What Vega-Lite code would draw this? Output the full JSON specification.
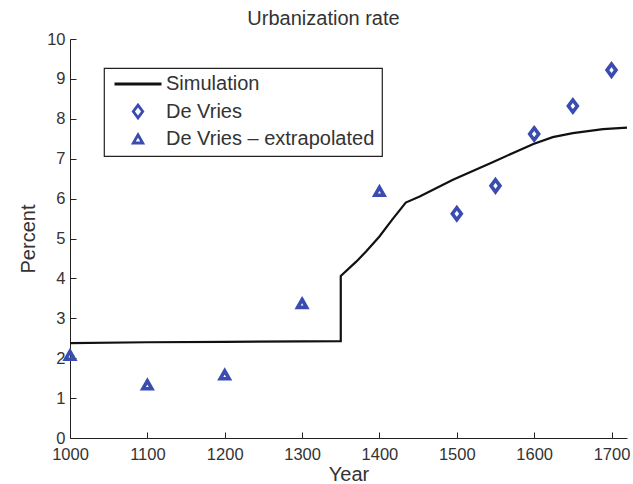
{
  "$schema": "https://vega.github.io/schema/vega-lite/v6.json",
  "width": 557,
  "height": 399,
  "autosize": {"type": "none"},
  "padding": {"left": 70, "top": 39, "right": 6, "bottom": 46},
  "background": "white",
  "title": {"text": "Urbanization rate", "fontSize": 20, "font": "Liberation Sans", "fontWeight": "normal", "color": "#333333", "offset": 2, "dx": -25},
  "config": {
    "view": {"stroke": null},
    "font": "Liberation Sans",
    "axis": {"grid": false, "domainColor": "#222222", "tickColor": "#222222", "labelColor": "#333333", "titleColor": "#333333", "labelFontSize": 16.5, "titleFontSize": 20, "titleFontWeight": "normal", "labelFont": "Liberation Sans", "titleFont": "Liberation Sans", "tickSize": -6, "labelFlush": false, "labelOverlap": false},
    "legend": {"strokeWidth": 1.2}
  },
  "datasets": {
    "sim": [
      {"i": 0, "year": 1000, "value": 2.38, "series": "Simulation"},
      {"i": 1, "year": 1100, "value": 2.4, "series": "Simulation"},
      {"i": 2, "year": 1200, "value": 2.41, "series": "Simulation"},
      {"i": 3, "year": 1300, "value": 2.42, "series": "Simulation"},
      {"i": 4, "year": 1350, "value": 2.43, "series": "Simulation"},
      {"i": 5, "year": 1350, "value": 4.06, "series": "Simulation"},
      {"i": 6, "year": 1370, "value": 4.42, "series": "Simulation"},
      {"i": 7, "year": 1383, "value": 4.68, "series": "Simulation"},
      {"i": 8, "year": 1400, "value": 5.05, "series": "Simulation"},
      {"i": 9, "year": 1416, "value": 5.46, "series": "Simulation"},
      {"i": 10, "year": 1434, "value": 5.9, "series": "Simulation"},
      {"i": 11, "year": 1452, "value": 6.05, "series": "Simulation"},
      {"i": 12, "year": 1495, "value": 6.47, "series": "Simulation"},
      {"i": 13, "year": 1547, "value": 6.92, "series": "Simulation"},
      {"i": 14, "year": 1599, "value": 7.37, "series": "Simulation"},
      {"i": 15, "year": 1624, "value": 7.54, "series": "Simulation"},
      {"i": 16, "year": 1650, "value": 7.64, "series": "Simulation"},
      {"i": 17, "year": 1689, "value": 7.74, "series": "Simulation"},
      {"i": 18, "year": 1720, "value": 7.78, "series": "Simulation"}
    ],
    "obs": [
      {"year": 1000, "value": 2.07, "series": "De Vries – extrapolated"},
      {"year": 1100, "value": 1.33, "series": "De Vries – extrapolated"},
      {"year": 1200, "value": 1.58, "series": "De Vries – extrapolated"},
      {"year": 1300, "value": 3.37, "series": "De Vries – extrapolated"},
      {"year": 1400, "value": 6.18, "series": "De Vries – extrapolated"},
      {"year": 1500, "value": 5.62, "series": "De Vries"},
      {"year": 1550, "value": 6.32, "series": "De Vries"},
      {"year": 1600, "value": 7.62, "series": "De Vries"},
      {"year": 1650, "value": 8.32, "series": "De Vries"},
      {"year": 1700, "value": 9.22, "series": "De Vries"}
    ]
  },
  "encoding": {
    "x": {"field": "year", "type": "quantitative", "scale": {"domain": [1000, 1720], "nice": false, "zero": false}, "axis": {"values": [1000, 1100, 1200, 1300, 1400, 1500, 1600, 1700], "title": "Year", "labelPadding": 14, "titlePadding": 2, "format": "d"}},
    "y": {"field": "value", "type": "quantitative", "scale": {"domain": [0, 10], "nice": false}, "axis": {"values": [0, 1, 2, 3, 4, 5, 6, 7, 8, 9, 10], "title": "Percent", "labelPadding": 11, "titlePadding": 8}},
    "color": {"field": "series", "type": "nominal", "scale": {"domain": ["Simulation", "De Vries", "De Vries – extrapolated"], "range": ["#111111", "#3a4cb1", "#3a4cb1"]},
      "legend": {"title": null, "orient": "none", "legendX": 34, "legendY": 29, "padding": 7, "strokeColor": "#222222", "fillColor": "white", "symbolSize": 2209, "symbolStrokeWidth": 2.8, "labelFontSize": 20, "labelFont": "Liberation Sans", "labelColor": "#333333", "labelLimit": 400, "labelOffset": 3, "clipHeight": 18, "rowPadding": 7.5, "symbolOffset": 2}}
  },
  "layer": [
    {
      "data": {"name": "sim"},
      "mark": {"type": "line", "strokeWidth": 2.2},
      "encoding": {
        "order": {"field": "i"}
      }
    },
    {
      "data": {"name": "obs"},
      "mark": {"type": "point", "filled": false, "strokeWidth": 3.6, "size": 2000, "opacity": 1},
      "encoding": {
        "shape": {"field": "series", "type": "nominal", "scale": {"domain": ["Simulation", "De Vries", "De Vries – extrapolated"], "range": ["M-1,0L1,0", "M0,-0.27L0.2,0L0,0.27L-0.2,0Z", "M0,-0.18L0.2,0.17L-0.2,0.17Z"]},
          "legend": {"title": null, "orient": "none", "legendX": 34, "legendY": 29, "padding": 7, "strokeColor": "#222222", "fillColor": "white", "symbolSize": 2209, "symbolStrokeWidth": 2.8, "labelFontSize": 20, "labelFont": "Liberation Sans", "labelColor": "#333333", "labelLimit": 400, "labelOffset": 3, "clipHeight": 18, "rowPadding": 7.5, "symbolOffset": 2}}
      }
    }
  ]
}
